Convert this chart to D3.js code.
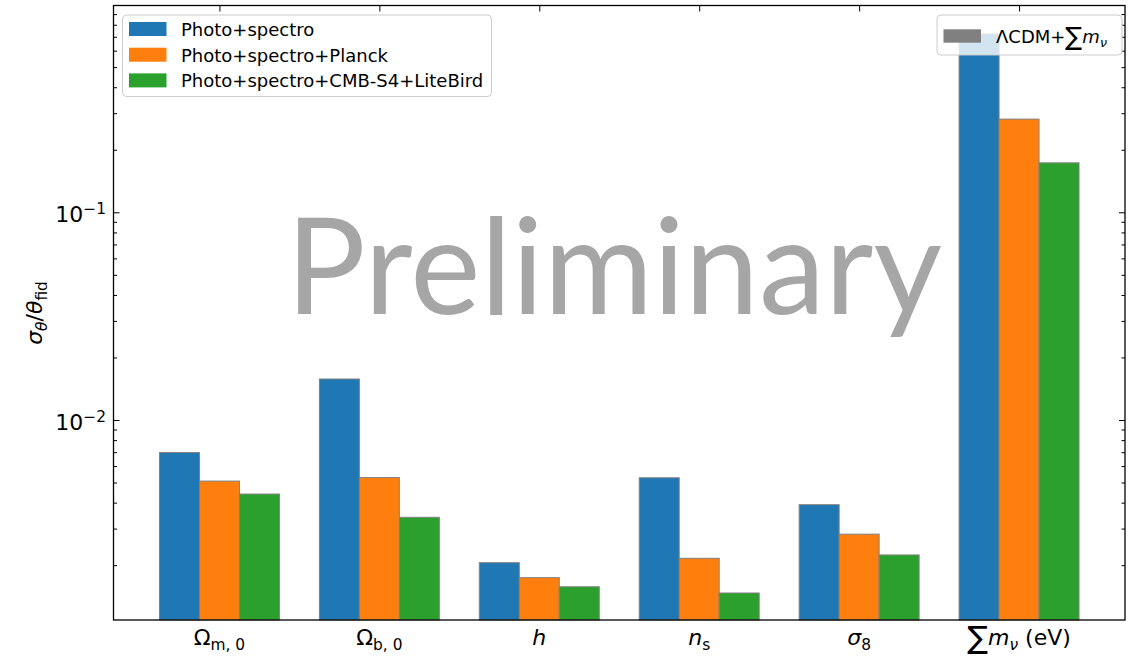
<!DOCTYPE html>
<html>
<head>
<meta charset="utf-8">
<script src="https://cdn.jsdelivr.net/npm/d3@7"></script>
<style>
  body { margin: 0; background: #fff; }
  svg { display: block; }
  text { font-family: "DejaVu Sans", sans-serif; fill: #000; }
</style>
</head>
<body>
<svg id="chart" width="1138" height="658"></svg>
<script>
// Parameter names (rich segments for the math-style labels)
const categories = ["Om0", "Ob0", "h", "ns", "sigma8", "mnu"];
const categoryLabels = [
  [{ t: "Ω" }, { t: "m, 0", sub: true }],
  [{ t: "Ω" }, { t: "b, 0", sub: true }],
  [{ t: "h", it: true }],
  [{ t: "n", it: true }, { t: "s", sub: true }],
  [{ t: "σ", it: true }, { t: "8", sub: true }],
  [{ t: "∑", big: true }, { t: "m", it: true }, { t: "ν", it: true, sub: true }, { t: " (eV)" }]
];

// Relative 1-sigma errors per probe combination
const seriesNames = ["Photo+spectro", "Photo+spectro+Planck", "Photo+spectro+CMB-S4+LiteBird"];
const photoSpectro       = [6.97e-3, 1.575e-2, 2.056e-3, 5.27e-3, 3.91e-3, 0.722];
const photoSpectroPlanck = [5.08e-3, 5.28e-3, 1.741e-3, 2.158e-3, 2.82e-3, 0.281];
const photoSpectroS4LB   = [4.40e-3, 3.40e-3, 1.574e-3, 1.469e-3, 2.24e-3, 0.173];
const seriesColors = ["#1f77b4", "#ff7f0e", "#2ca02c"];

// Axis ticks
const majorTicks = [1e-2, 1e-1];
const majorTickLabels = [[{ t: "10" }, { t: "−2", sup: true }], [{ t: "10" }, { t: "−1", sup: true }]];
const yDomain = [1.089e-3, 0.99];

const seriesValues = [photoSpectro, photoSpectroPlanck, photoSpectroS4LB];

const svg = d3.select("#chart");
const plotLeft = 113.5, plotRight = 1125, plotTop = 5.5, plotBottom = 620;
const barW = 0.25;

const x = d3.scaleLinear().domain([-0.6625, 5.6625]).range([plotLeft, plotRight]);
const y = d3.scaleLog().domain(yDomain).range([plotBottom, plotTop]);

// Writes a label made of plain / italic / sub / superscript / large-operator segments
function rich(textSel, segs, size) {
  let cur = 0;
  segs.forEach(s => {
    const fs = (s.sub || s.sup) ? size * 0.7 : s.big ? size * 1.4 : size;
    const shift = s.sub ? size * 0.22 : s.sup ? -size * 0.38 : s.big ? size * 0.14 : 0;
    textSel.append("tspan")
      .attr("dy", shift - cur)
      .attr("font-size", fs)
      .attr("font-style", s.it ? "italic" : "normal")
      .text(s.t);
    cur = shift;
  });
}

// Bars
const barsG = svg.append("g");
seriesValues.forEach((vals, si) => {
  barsG.selectAll(null)
    .data(vals)
    .enter()
    .append("rect")
    .attr("x", (d, i) => x(i + (si - 1) * barW - barW / 2))
    .attr("width", x(barW) - x(0))
    .attr("y", d => y(d))
    .attr("height", d => plotBottom - y(d))
    .attr("fill", seriesColors[si])
    .attr("stroke", "#808080")
    .attr("stroke-width", 1);
});

// Watermark
const wm = svg.append("text")
  .attr("x", 614)
  .attr("y", 314)
  .attr("text-anchor", "middle")
  .style("font-family", "Lato, sans-serif")
  .style("fill", "#a6a6a6")
  .attr("font-size", 130)
  .text("Preliminary");
const wmLen = wm.node().getComputedTextLength();
wm.attr("font-size", 130 * 656 / wmLen);

// Ticks (all pointing inward)
const minorTicks = y.ticks().filter(v => Math.abs(Math.log10(v) - Math.round(Math.log10(v))) > 1e-6);
function styleAxis(g) {
  g.select(".domain").remove();
  g.selectAll(".tick line").attr("stroke", "#000").attr("stroke-width", 1);
}
svg.append("g").attr("transform", `translate(${plotLeft},0)`)
  .call(d3.axisLeft(y).tickValues(majorTicks).tickSize(-6).tickFormat("")).call(styleAxis);
svg.append("g").attr("transform", `translate(${plotLeft},0)`)
  .call(d3.axisLeft(y).tickValues(minorTicks).tickSize(-3.5).tickFormat("")).call(styleAxis);
svg.append("g").attr("transform", `translate(${plotRight},0)`)
  .call(d3.axisRight(y).tickValues(majorTicks).tickSize(-6).tickFormat("")).call(styleAxis);
svg.append("g").attr("transform", `translate(${plotRight},0)`)
  .call(d3.axisRight(y).tickValues(minorTicks).tickSize(-3.5).tickFormat("")).call(styleAxis);
svg.append("g").attr("transform", `translate(0,${plotTop})`)
  .call(d3.axisTop(x).tickValues(d3.range(categories.length)).tickSize(-6).tickFormat("")).call(styleAxis);

// Frame
svg.append("rect")
  .attr("x", plotLeft).attr("y", plotTop)
  .attr("width", plotRight - plotLeft).attr("height", plotBottom - plotTop)
  .attr("fill", "none").attr("stroke", "#000").attr("stroke-width", 1.3);

// Y tick labels
majorTicks.forEach((v, i) => {
  const t = svg.append("text")
    .attr("x", 106).attr("y", y(v) + 10)
    .attr("text-anchor", "end");
  rich(t, majorTickLabels[i], 22);
});

// X tick labels
categoryLabels.forEach((segs, i) => {
  const t = svg.append("text")
    .attr("x", x(i)).attr("y", 645)
    .attr("text-anchor", "middle");
  rich(t, segs, 22);
});

// Y axis label
const yl = svg.append("text")
  .attr("transform", "translate(42,313) rotate(-90)")
  .attr("text-anchor", "middle");
rich(yl, [{ t: "σ", it: true }, { t: "θ", it: true, sub: true }, { t: "/" }, { t: "θ", it: true }, { t: "fid", sub: true }], 22);

// Legend: probe combinations
const lg = svg.append("g");
lg.append("rect")
  .attr("x", 122.5).attr("y", 15).attr("width", 369).attr("height", 81.5)
  .attr("rx", 4)
  .attr("fill", "#fff").attr("fill-opacity", 0.8)
  .attr("stroke", "#cccccc").attr("stroke-width", 1);
seriesNames.forEach((name, i) => {
  const yy = 22 + i * 25.7;
  lg.append("rect")
    .attr("x", 129).attr("y", yy).attr("width", 37.5).attr("height", 14)
    .attr("fill", seriesColors[i]);
  lg.append("text")
    .attr("x", 181).attr("y", yy + 13.8)
    .attr("font-size", 18)
    .text(name);
});

// Legend: model
const lg2 = svg.append("g");
lg2.append("rect")
  .attr("x", 937).attr("y", 15).attr("width", 185).attr("height", 40)
  .attr("rx", 4)
  .attr("fill", "#fff").attr("fill-opacity", 0.8)
  .attr("stroke", "#cccccc").attr("stroke-width", 1);
lg2.append("rect")
  .attr("x", 943.5).attr("y", 29.3).attr("width", 37.5).attr("height", 13.4)
  .attr("fill", "#808080");
const l2t = lg2.append("text").attr("x", 996).attr("y", 42.7);
rich(l2t, [{ t: "ΛCDM+" }, { t: "∑", big: true }, { t: "m", it: true }, { t: "ν", it: true, sub: true }], 18);
</script>
</body>
</html>
